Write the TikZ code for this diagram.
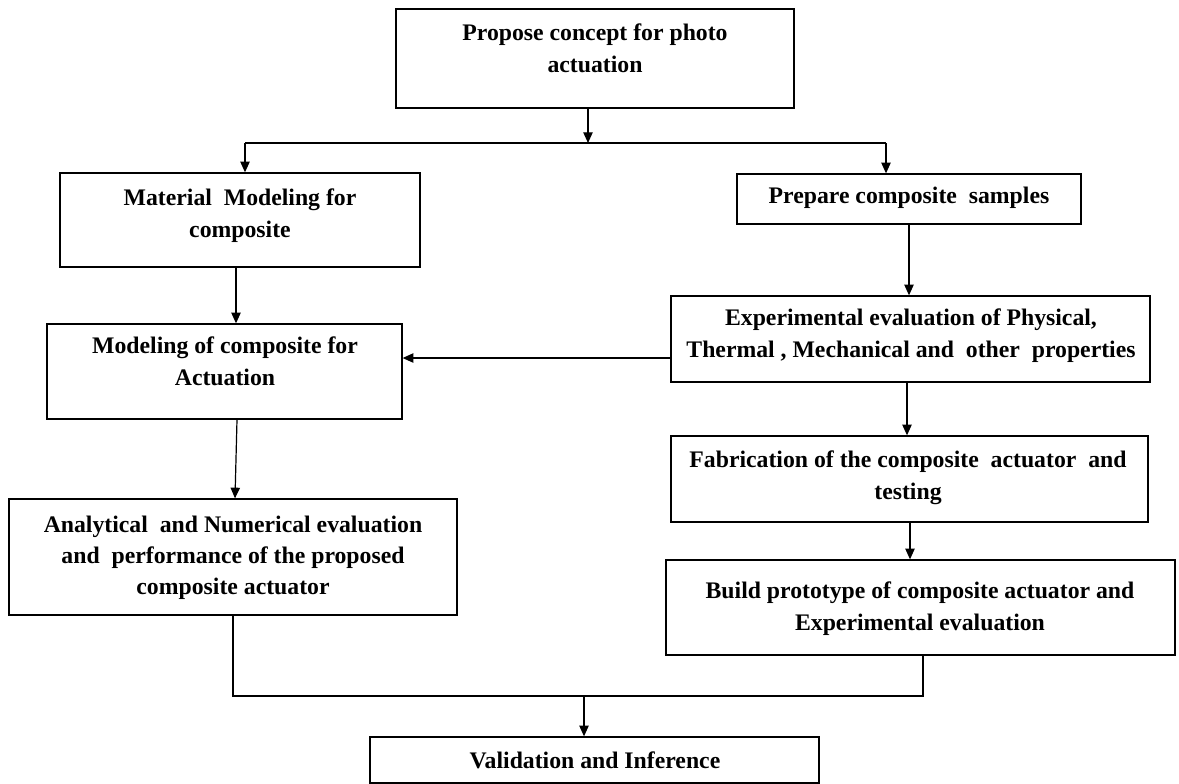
\documentclass[tikz,border=0pt]{standalone}
\usepackage{fontspec}
\setmainfont{Liberation Serif}
\usetikzlibrary{arrows.meta,fit}
\begin{document}
\begin{tikzpicture}[x=0.75pt,y=-0.75pt,
  box/.style={draw=black,line width=1pt,inner sep=0pt,fill=white},
  txt/.style={anchor=north,align=center,inner sep=0pt,font=\bfseries\fontsize{17.8}{23.3}\selectfont},
  arr/.style={line width=0.9pt,-{Triangle[length=8pt,width=7pt]}},
  ln/.style={line width=0.9pt}]
\useasboundingbox (0,0) rectangle (1179,783);
% boxes
\node[box,fit={(396,9) (794,108)}] (b1) {};
\node[box,fit={(60,173) (420,267)}] (b2) {};
\node[box,fit={(737,174) (1081,224)}] (b3) {};
\node[box,fit={(47,324) (402,419)}] (b4) {};
\node[box,fit={(671,296) (1150,382)}] (b5) {};
\node[box,fit={(671,436) (1148,522)}] (b6) {};
\node[box,fit={(9,499) (457,615)}] (b7) {};
\node[box,fit={(666,560) (1175,655)}] (b8) {};
\node[box,fit={(370,737) (819,783)}] (b9) {};
% texts
\node[txt] (t1) at (595,24) {Propose concept for photo\\actuation};
\node[txt] (t2) at (240,189) {Material~~Modeling for\\composite};
\node[txt] (t3) at (909,187) {Prepare composite~ samples};
\node[txt] (t4) at (225,337) {Modeling of composite for\\Actuation};
\node[txt] (t5) at (911,309) {Experimental evaluation of Physical,\\Thermal , Mechanical and~~other~~properties};
\node[txt] (t6) at (908,451) {Fabrication of the composite~~actuator~~and\\testing};
\node[txt] (t7) at (233,516) {Analytical~~and Numerical evaluation\\and~~performance of the proposed\\composite actuator};
\node[txt] (t8) at (920,582) {Build prototype of composite actuator and\\Experimental evaluation};
\node[txt] (t9) at (595,752) {Validation and Inference};
% junctions
\coordinate (jT) at (588,143);
\coordinate (jL) at (245,143);
\coordinate (jR) at (886,143);
\coordinate (kL) at (233,696);
\coordinate (kR) at (923,696);
\coordinate (kM) at (584,696);
% connectors
\draw[arr] (b1.south -| jT) -- (jT);
\draw[ln] (jL) -- (jR);
\draw[arr] (jL) -- (jL |- b2.north);
\draw[arr] (jR) -- (jR |- b3.north);
\draw[arr] (b2.south -| 236,0) -- (b4.north -| 236,0);
\draw[arr] (b3.south -| 909,0) -- (b5.north -| 909,0);
\draw[arr] (b5.west |- 0,358) -- (b4.east |- 0,358);
\draw[arr] (b4.south -| 237,0) -- (b7.north -| 235,0);
\draw[arr] (b5.south -| 907,0) -- (b6.north -| 907,0);
\draw[arr] (b6.south -| 910,0) -- (b8.north -| 910,0);
\draw[ln] (b7.south -| kL) -- (kL) -- (kR) -- (b8.south -| kR);
\draw[arr] (kM) -- (kM |- b9.north);
\end{tikzpicture}
\end{document}
